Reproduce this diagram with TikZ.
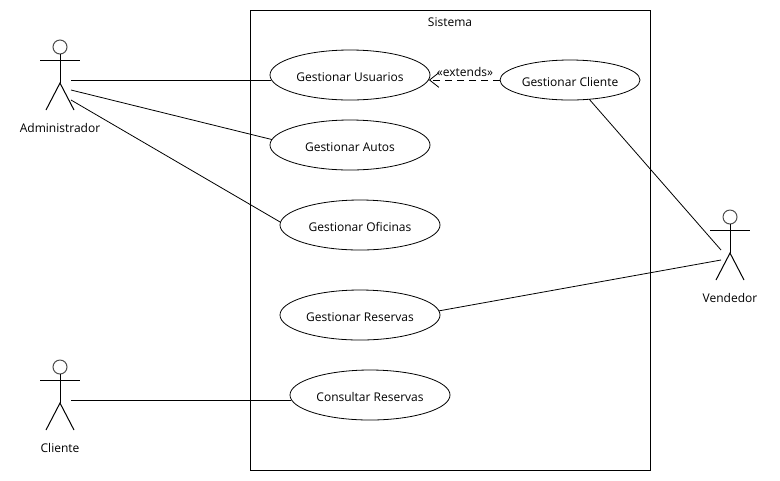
\documentclass[tikz,border=0pt]{standalone}
\usepackage{fontspec}
\setmainfont{Open Sans}
\usetikzlibrary{arrows.meta, positioning, shapes.geometric}

\begin{document}
\begin{tikzpicture}[
        x=0.75pt, y=-0.75pt,
        node distance=15pt and 30pt,
        font=\fontsize{9}{11}\selectfont,
        usecase/.style={ellipse, draw=black, line width=0.6pt, inner sep=0pt, outer sep=0pt, minimum width=120pt, minimum height=37.5pt, text height=9pt, text depth=0pt, align=center},
        system/.style={rectangle, draw=black, line width=0.75pt, minimum width=300pt, minimum height=345pt, inner sep=0pt},
        assoc/.style={-, line width=0.6pt},
        extend/.style={->, >={Straight Barb[length=7pt, width=11pt]}, dash pattern=on 5pt off 4pt, line width=0.6pt},
        stick/.style={line width=0.75pt},
        actor/.pic={
            \draw[stick, draw=black!70] (0,-33) circle (7);
            \draw[stick] (0,-26) -- (0,3);
            \draw[stick] (-20,-20) -- (20,-20);
            \draw[stick] (-14,30) -- (0,3) -- (14,30);
        }
    ]
        \useasboundingbox (0,0) rectangle (780,480);

        % System boundary
        \node[system] (sistema) at (450,240) {};
        \node[below=2.5pt of sistema.north] (sistemalabel) {Sistema};

        % Use cases
        \node[usecase] (usuarios) at (350,75) {Gestionar Usuarios};
        \node[usecase, below=15pt of usuarios] (autos) {Gestionar Autos};
        \node[usecase, below=22.5pt of autos, xshift=7.5pt] (oficinas) {Gestionar Oficinas};
        \node[usecase, below=30pt of oficinas] (reservas) {Gestionar Reservas};
        \node[usecase, below=22.5pt of reservas, xshift=7.5pt] (consultar) {Consultar Reservas};
        \node[usecase, minimum width=105pt, minimum height=30pt] (cliente) at (570,80) {Gestionar Cliente};

        % Actors
        \pic at (60,80) {actor};
        \pic at (60,400) {actor};
        \pic at (730,250) {actor};
        \node (admin) at (60,128) {Administrador};
        \node (clienteactor) at (60,448) {Cliente};
        \node (vendedor) at (730,298) {Vendedor};

        % Free ends next to the actors
        \coordinate (adminA) at (71,80);
        \coordinate (adminB) at (71,90);
        \coordinate (adminC) at (71,100);
        \coordinate (clienteA) at (71,400);
        \coordinate (vendedorA) at (721,250);
        \coordinate (vendedorB) at (721,260);

        \draw[assoc] (adminA) -- (adminA -| usuarios.183.65);
        \draw[assoc] (adminB) -- (autos.176.3);
        \draw[assoc] (adminC) -- (oficinas.178);
        \draw[assoc] (clienteA) -- (clienteA -| consultar.183.65);
        \draw[assoc] (cliente.-45) -- (vendedorA);
        \draw[assoc] (reservas.3.7) -- (vendedorB);
        \draw[extend] (cliente.west) -- (cliente.west -| usuarios.-3.65);
        \node (extendslabel) at (465,72) {«extends»};

    \end{tikzpicture}
\end{document}
